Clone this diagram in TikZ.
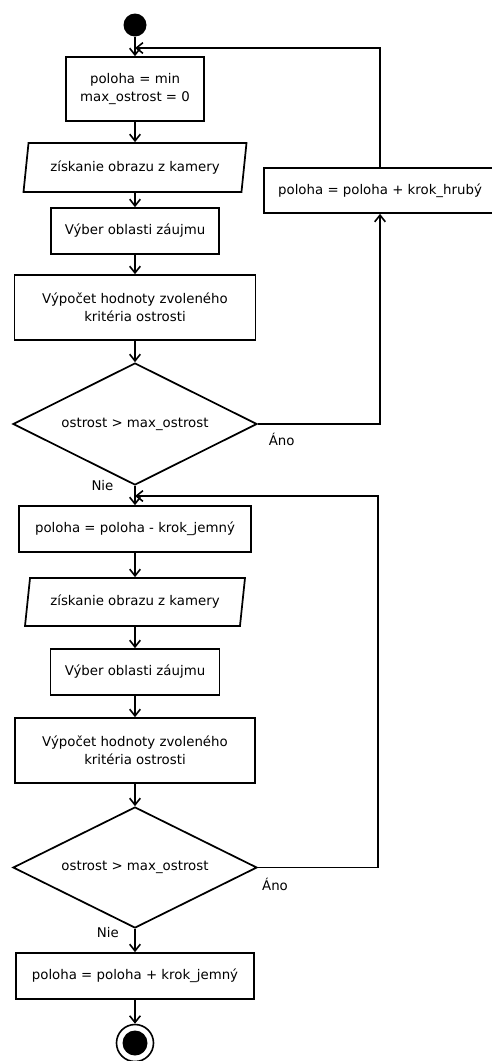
\documentclass[tikz,border=0pt]{standalone}
\usepackage{fontspec}
\setmainfont{DejaVu Sans}
\usepackage{tikz}
\usetikzlibrary{shapes.geometric,arrows.meta,positioning}

\begin{document}
\begin{tikzpicture}[x=0.75pt, y=-0.75pt,
  every node/.style={font=\fontsize{10pt}{13.5pt}\selectfont},
  proc/.style={draw, line width=1.3pt, align=center, inner sep=2pt},
  io/.style={draw, line width=1.3pt, shape=trapezium, trapezium left angle=75,
    trapezium right angle=105, trapezium stretches body, inner sep=2pt},
  decide/.style={draw, line width=1.3pt, shape=diamond, aspect=2, inner sep=0pt},
  lbl/.style={inner sep=0pt},
  flow/.style={line width=1.2pt, -{Straight Barb[length=5pt,width=8pt]}},
  link/.style={line width=1.2pt}]
  \useasboundingbox (0, 0) rectangle (492, 1061);

  \node[circle, fill, minimum size=17.25pt, inner sep=0pt] (start) at (135, 25) {};
  \node[proc, minimum width=103.5pt, minimum height=48pt] (init) at (135, 89)
    {poloha = min\\max\_ostrost = 0};
  \node[io, minimum width=167.25pt, minimum height=36.75pt] (grab1) at (135, 167.5)
    {získanie obrazu z kamery};
  \node[proc, minimum width=126pt, minimum height=34.5pt] (roi1) at (135, 231)
    {Výber oblasti záujmu};
  \node[proc, minimum width=180.75pt, minimum height=48.75pt] (eval1) at (135, 307.5)
    {Výpočet hodnoty zvoleného\\kritéria ostrosti};
  \node[decide, minimum width=183pt, minimum height=91.5pt] (test1) at (135, 424)
    {ostrost > max\_ostrost};
  \node[proc, minimum width=174pt, minimum height=33.75pt] (coarse) at (380, 190.5)
    {poloha = poloha + krok\_hrubý};

  \node[proc, minimum width=174pt, minimum height=34.5pt] (back) at (135, 529)
    {poloha = poloha - krok\_jemný};
  \node[io, minimum width=165pt, minimum height=36pt] (grab2) at (135, 602)
    {získanie obrazu z kamery};
  \node[proc, minimum width=126.75pt, minimum height=34.5pt] (roi2) at (135, 672)
    {Výber oblasti záujmu};
  \node[proc, minimum width=180pt, minimum height=48.75pt] (eval2) at (135, 750.5)
    {Výpočet hodnoty zvoleného\\kritéria ostrosti};
  \node[decide, minimum width=183pt, minimum height=90.75pt] (test2) at (135, 867.5)
    {ostrost > max\_ostrost};
  \node[proc, minimum width=178.5pt, minimum height=34.5pt] (fine) at (135, 976)
    {poloha = poloha + krok\_jemný};

  \node[circle, draw, line width=1.2pt, minimum size=27.75pt, inner sep=0pt] (stop) at (135, 1043) {};
  \node[circle, fill, minimum size=18.75pt, inner sep=0pt] at (stop) {};

  \node[lbl, below right=7pt and 8pt of test1.east] (yes1) {Áno};
  \node[lbl, left=16pt of test1.south] (no1) {Nie};
  \node[lbl, below right=8pt and 3pt of test2.east] (yes2) {Áno};
  \node[lbl, left=12pt of test2.south, yshift=-3pt] (no2) {Nie};

  \coordinate (join1) at (135, 48);
  \coordinate (join2) at (135, 496);
  \coordinate (turn2) at (378, 867.5);

  \draw[flow] (start) -- (init);
  \draw[flow] (init) -- (grab1);
  \draw[flow] (grab1) -- (roi1);
  \draw[flow] (roi1) -- (eval1);
  \draw[flow] (eval1) -- (test1);
  \draw[flow] (test1.east) -| (coarse.south);
  \draw[flow] (coarse.north) |- (join1);
  \draw[flow] (test1.south) -- (back);
  \draw[flow] (back) -- (grab2);
  \draw[flow] (grab2) -- (roi2);
  \draw[flow] (roi2) -- (eval2);
  \draw[flow] (eval2) -- (test2);
  \draw[link] (test2.east) -- (turn2);
  \draw[flow] (turn2) |- (join2);
  \draw[flow] (test2.south) -- (fine);
  \draw[flow] (fine) -- (stop);
\end{tikzpicture}
\end{document}
